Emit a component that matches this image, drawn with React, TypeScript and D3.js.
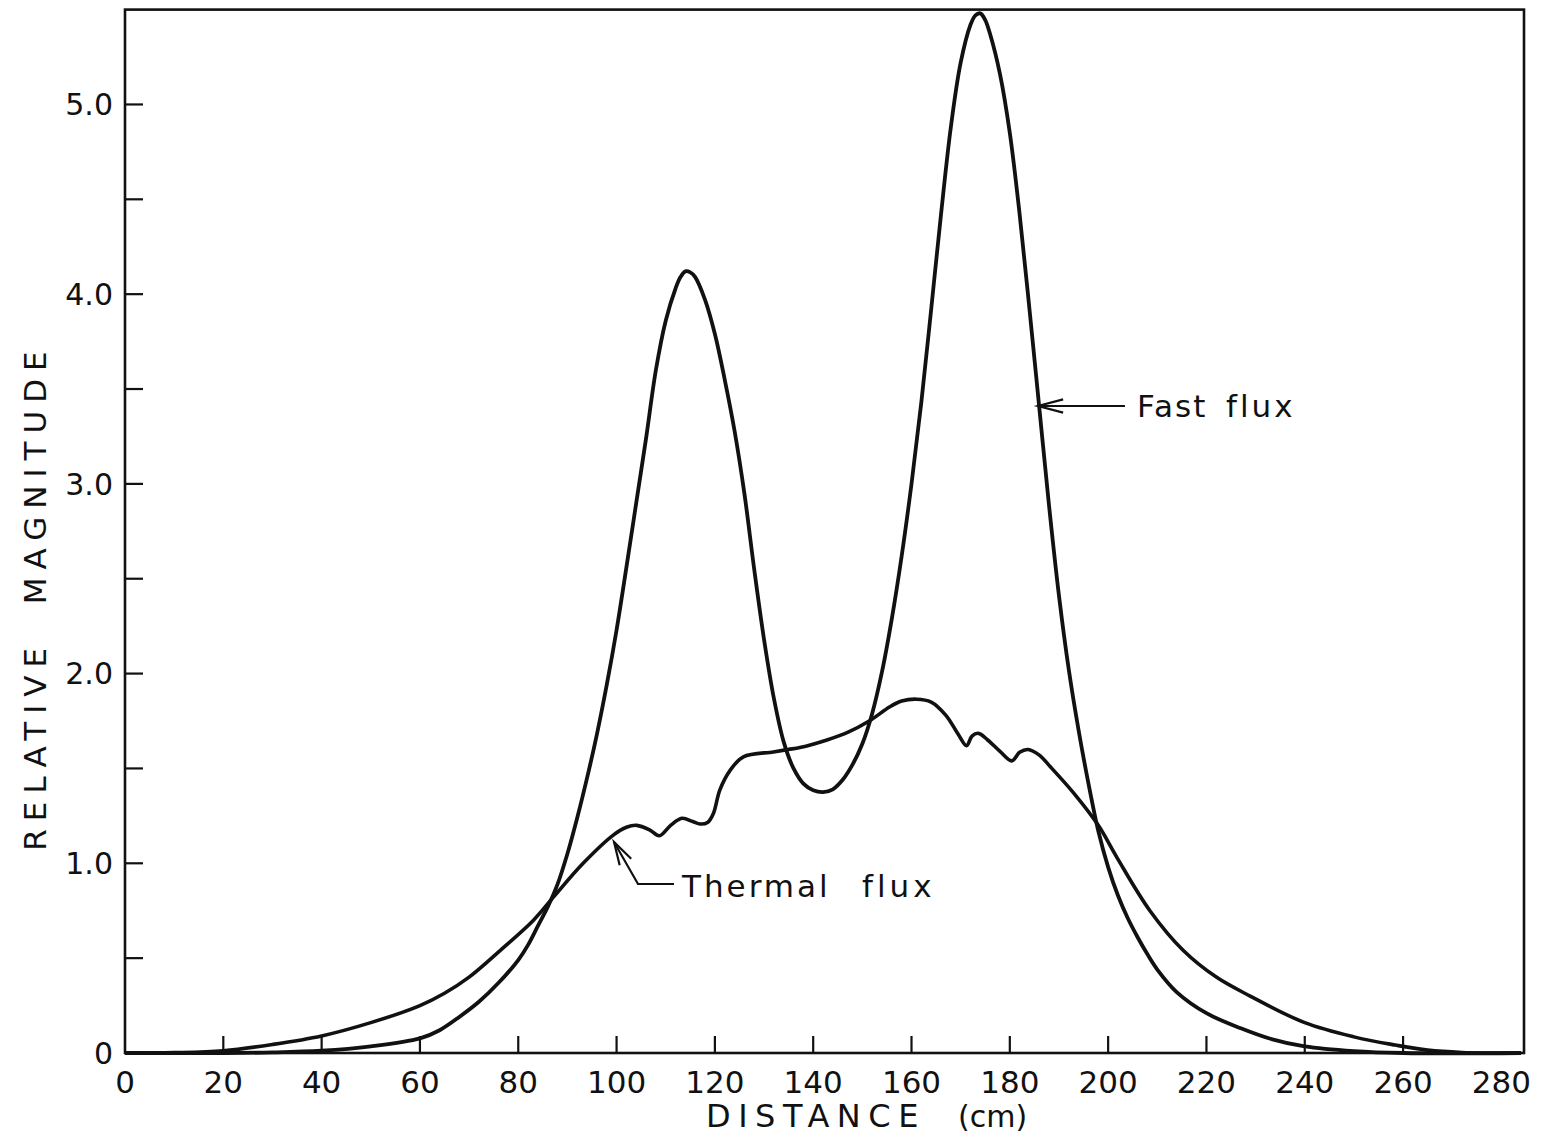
import React from 'react';
import * as d3 from 'd3';

// ---- data ----
const fastX = [0, 20, 30, 40, 50, 60, 64, 68, 72, 76, 80, 82, 84, 86, 88, 90, 92, 94, 96, 98, 100, 102, 104, 106, 108, 110, 112, 113, 114, 115, 116, 118, 120, 122, 124, 126, 128, 130, 132, 134, 136, 138, 140, 142, 144, 146, 148, 150, 152, 154, 156, 158, 160, 162, 164, 166, 168, 170, 172, 173, 174, 175, 176, 178, 180, 182, 184, 186, 188, 190, 192, 194, 196, 198, 200, 202, 204, 206, 208, 210, 214, 220, 227, 233, 240, 250, 260, 284];
const fastY = [0, 0, 0.003, 0.012, 0.035, 0.077, 0.12, 0.19, 0.27, 0.37, 0.49, 0.57, 0.67, 0.77, 0.89, 1.05, 1.24, 1.45, 1.68, 1.94, 2.23, 2.56, 2.9, 3.24, 3.6, 3.86, 4.03, 4.09, 4.12, 4.115, 4.09, 3.97, 3.79, 3.55, 3.28, 2.95, 2.55, 2.18, 1.87, 1.64, 1.5, 1.42, 1.385, 1.375, 1.39, 1.44, 1.52, 1.63, 1.79, 2.01, 2.29, 2.62, 3.0, 3.43, 3.92, 4.42, 4.88, 5.22, 5.42, 5.47, 5.48, 5.445, 5.37, 5.16, 4.85, 4.42, 3.92, 3.4, 2.88, 2.41, 2.02, 1.7, 1.42, 1.17, 0.98, 0.83, 0.71, 0.61, 0.52, 0.44, 0.32, 0.21, 0.13, 0.075, 0.035, 0.01, 0, 0];

const thermalX = [0, 10, 20, 30, 40, 50, 60, 65, 70, 76.3, 83.1, 87.1, 93.2, 99.4, 102, 104.1, 106.8, 108.7, 111, 113.3, 115.5, 117, 118.5, 119.7, 121, 123.1, 125.8, 131.9, 134.9, 137.3, 142.8, 147, 151.4, 155.6, 158, 161, 164, 167, 169.5, 171.2, 172.3, 173.6, 175.5, 178, 180.4, 182, 183.7, 186, 188.2, 193, 198, 201.8, 208.5, 215.3, 222, 228.9, 240, 250, 258.4, 265, 272, 284];
const thermalY = [0, 0.002, 0.012, 0.045, 0.09, 0.16, 0.25, 0.315, 0.4, 0.54, 0.7, 0.82, 1.0, 1.15, 1.19, 1.2, 1.175, 1.145, 1.2, 1.237, 1.22, 1.207, 1.215, 1.263, 1.386, 1.49, 1.561, 1.587, 1.6, 1.61, 1.65, 1.69, 1.75, 1.825, 1.855, 1.865, 1.85, 1.78, 1.68, 1.62, 1.67, 1.685, 1.65, 1.59, 1.54, 1.585, 1.6, 1.57, 1.51, 1.37, 1.2, 1.03, 0.75, 0.54, 0.4, 0.3, 0.16, 0.085, 0.042, 0.015, 0.003, 0];

const xTickValues = [0, 20, 40, 60, 80, 100, 120, 140, 160, 180, 200, 220, 240, 260, 280];
const xTickLabels = ['0', '20', '40', '60', '80', '100', '120', '140', '160', '180', '200', '220', '240', '260', '280'];
const xTickMarks = [20, 40, 60, 80, 100, 120, 140, 160, 180, 200, 220, 240, 260];
const yTickValues = [0, 1, 2, 3, 4, 5];
const yTickLabels = ['0', '1.0', '2.0', '3.0', '4.0', '5.0'];
const yTickMarks = [0.5, 1, 1.5, 2, 2.5, 3, 3.5, 4, 4.5, 5];

const xAxisTitle = 'DISTANCE';
const xAxisUnit = '(cm)';
const yAxisTitle = 'RELATIVE  MAGNITUDE';
const fastLabel = ['Fast', 'flux'];
const thermalLabel = ['Thermal', 'flux'];

// ---- layout ----
const W = 1543;
const H = 1136;
const FONT = "'DejaVu Sans', sans-serif";

export default function App() {
  const x = d3.scaleLinear().domain([0, 284.6]).range([125, 1524]);
  const y = d3.scaleLinear().domain([0, 5.5]).range([1053, 9.6]);
  const line = d3
    .line<[number, number]>()
    .x((d) => x(d[0]))
    .y((d) => Math.min(y(0), y(d[1])))
    .curve(d3.curveCatmullRom.alpha(0.5));

  const fastPts = fastX.map((v, i) => [v, fastY[i]] as [number, number]);
  const thermalPts = thermalX.map((v, i) => [v, thermalY[i]] as [number, number]);

  const [x0, x1] = x.range();
  const [yb, yt] = y.range();

  const arrowHead = (tx: number, ty: number, fx: number, fy: number, len = 22, ang = 0.3) => {
    const a = Math.atan2(fy - ty, fx - tx);
    const p1 = [tx + len * Math.cos(a + ang), ty + len * Math.sin(a + ang)];
    const p2 = [tx + len * Math.cos(a - ang), ty + len * Math.sin(a - ang)];
    return `M${p1[0]},${p1[1]} L${tx},${ty} L${p2[0]},${p2[1]}`;
  };

  const fTip = { x: 1038, y: 406 };
  const fTail = { x: 1125, y: 406 };
  const tTip = { x: 614, y: 842 };
  const tElbow = { x: 638, y: 884 };
  const tEnd = { x: 674, y: 884 };

  return (
    <svg
      width={W}
      height={H}
      viewBox={`0 0 ${W} ${H}`}
      style={{ position: 'absolute', left: 0, top: 0, background: '#fff' }}
      fontFamily={FONT}
    >
      <rect x={0} y={0} width={W} height={H} fill="#fff" />
      <rect x={x0} y={yt} width={x1 - x0} height={yb - yt} fill="none" stroke="#111" strokeWidth={2.6} />

      {yTickMarks.map((v) => (
        <line key={'yt' + v} x1={x0} x2={x0 + 18} y1={y(v)} y2={y(v)} stroke="#111" strokeWidth={2.2} />
      ))}
      {yTickValues.map((v, i) => (
        <text key={'yl' + v} x={x0 - 12} y={y(v)} dy="0.36em" textAnchor="end" fontSize={30} fill="#111">
          {yTickLabels[i]}
        </text>
      ))}

      {xTickMarks.map((v) => (
        <line key={'xt' + v} x1={x(v)} x2={x(v)} y1={yb} y2={yb - 17} stroke="#111" strokeWidth={2.2} />
      ))}
      {xTickValues.map((v, i) => (
        <text key={'xl' + v} x={x(v)} y={yb + 40} textAnchor="middle" fontSize={31} fill="#111">
          {xTickLabels[i]}
        </text>
      ))}

      <text x={706} y={1127} fontSize={32} letterSpacing={7.5} fill="#111">
        {xAxisTitle}
      </text>
      <text x={958} y={1127} fontSize={30} letterSpacing={0} fill="#111">
        {xAxisUnit}
      </text>
      <text
        transform={`translate(46, 597) rotate(-90)`}
        textAnchor="middle"
        fontSize={31}
        letterSpacing={8}
        fill="#111"
        style={{ whiteSpace: 'pre' }}
      >
        {yAxisTitle}
      </text>

      <path d={line(thermalPts) || ''} fill="none" stroke="#111" strokeWidth={3.6} strokeLinejoin="round" />
      <path d={line(fastPts) || ''} fill="none" stroke="#111" strokeWidth={3.8} strokeLinejoin="round" />

      <line x1={fTip.x} y1={fTip.y} x2={fTail.x} y2={fTail.y} stroke="#111" strokeWidth={2.2} />
      <path d={arrowHead(fTip.x, fTip.y, fTail.x, fTail.y, 26, 0.26)} fill="none" stroke="#111" strokeWidth={2.2} />
      <text x={1137} y={417} fontSize={31} letterSpacing={2} fill="#111">
        {fastLabel[0]}
      </text>
      <text x={1226} y={417} fontSize={31} letterSpacing={3} fill="#111">
        {fastLabel[1]}
      </text>

      <path
        d={`M${tTip.x},${tTip.y} L${tElbow.x},${tElbow.y} L${tEnd.x},${tEnd.y}`}
        fill="none"
        stroke="#111"
        strokeWidth={2.2}
      />
      <path d={arrowHead(tTip.x, tTip.y, tElbow.x, tElbow.y, 24, 0.28)} fill="none" stroke="#111" strokeWidth={2.2} />
      <text x={682} y={897} fontSize={31} letterSpacing={3} fill="#111">
        {thermalLabel[0]}
      </text>
      <text x={862} y={897} fontSize={31} letterSpacing={4} fill="#111">
        {thermalLabel[1]}
      </text>
    </svg>
  );
}
